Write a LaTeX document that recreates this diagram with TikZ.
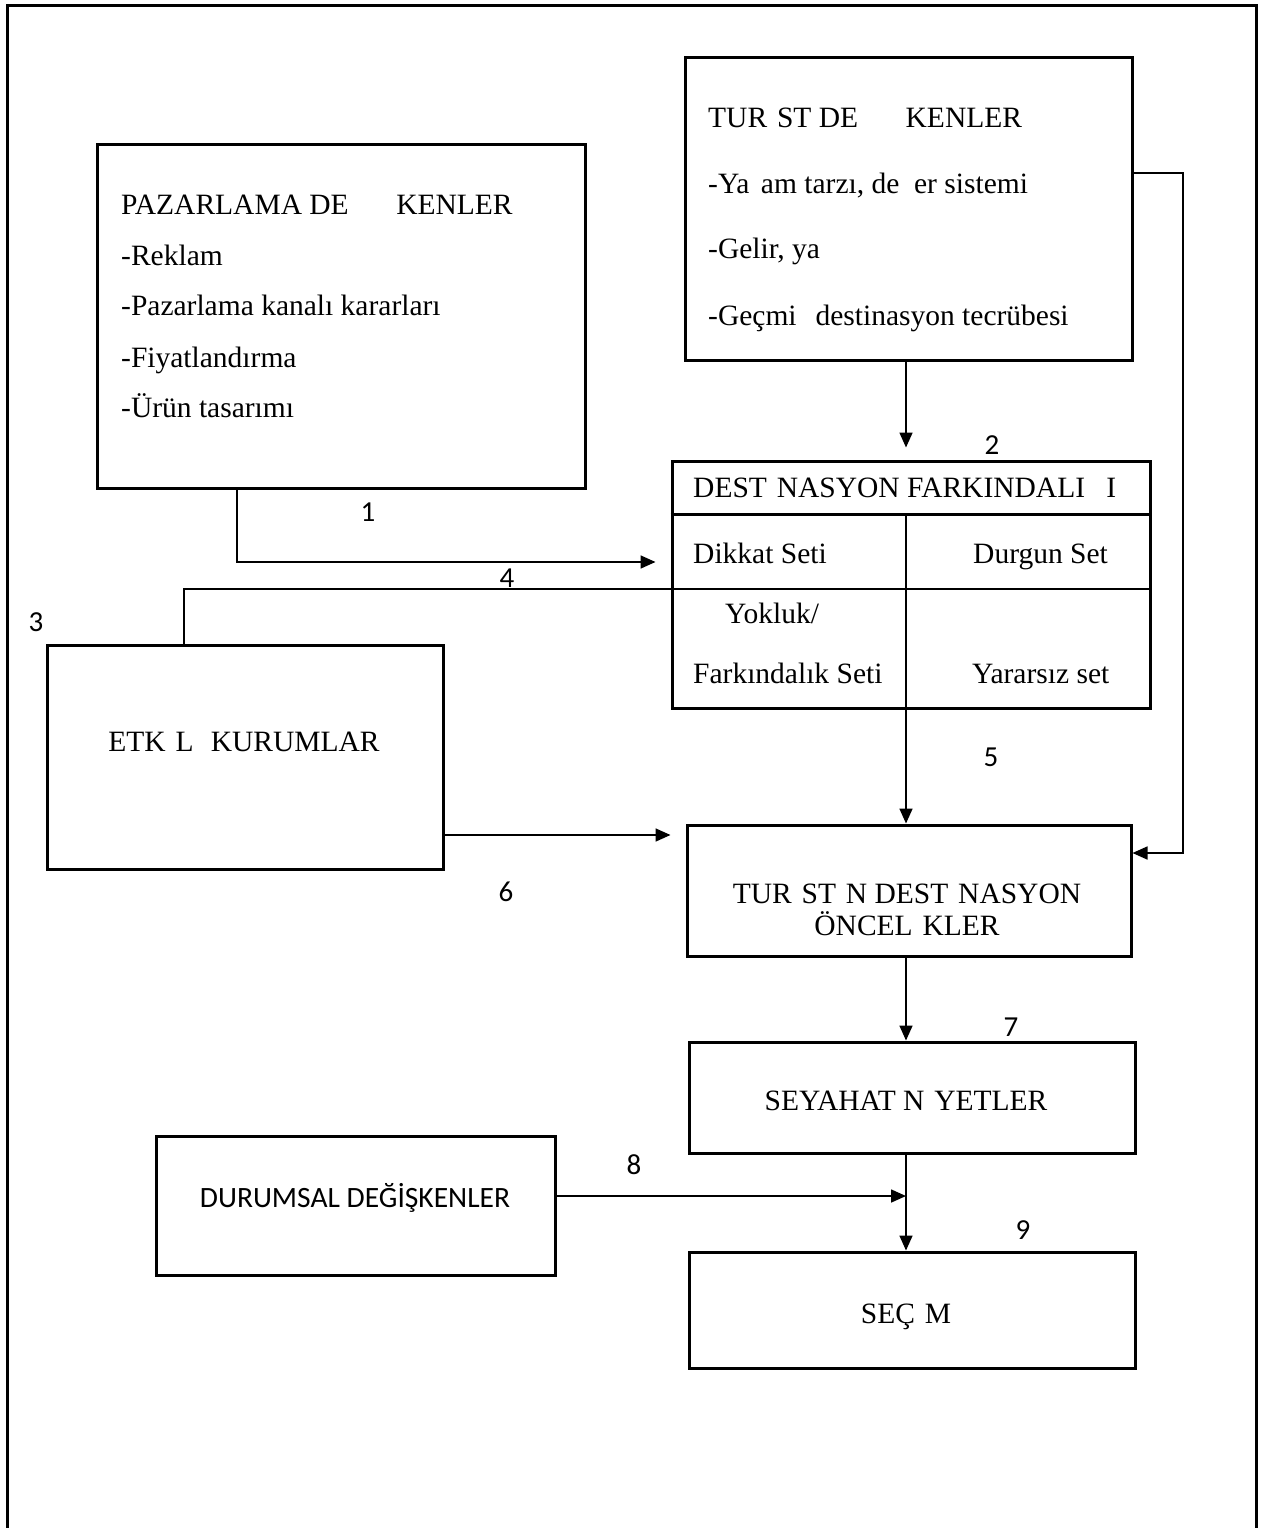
\documentclass[tikz,border=0pt]{standalone}
\usepackage{fontspec}
\setmainfont{Liberation Serif}
\newfontfamily\lblfont{Carlito}
\usetikzlibrary{arrows.meta}
\begin{document}
\begin{tikzpicture}[x=1pt,y=-1pt,
  box/.style={draw,line width=3pt,rectangle,inner sep=0pt},
  conn/.style={line width=1.7pt},
  arr/.style={conn,-{Triangle[length=15pt,width=13pt]}},
  txt/.style={inner sep=0pt,anchor=base west,font=\fontsize{29.5}{34}\selectfont},
  ctxt/.style={inner sep=0pt,anchor=base,font=\fontsize{29.5}{34}\selectfont},
  lbl/.style={inner sep=0pt,font=\lblfont\fontsize{29}{32}\selectfont}]
\useasboundingbox (0,0) rectangle (1262,1528);
% outer frame
\draw[line width=3pt] (7,1528) -- (7,6) -- (1256,6) -- (1256,1528);

% boxes
\node[box,minimum width=488pt,minimum height=344pt] (paz) at (341,316) {};
\node[box,minimum width=447pt,minimum height=302pt] (tur) at (908.5,209) {};
\node[box,minimum width=478pt,minimum height=247pt] (dest) at (911,584.5) {};
\node[box,minimum width=396pt,minimum height=224pt] (etk) at (245,757) {};
\node[box,minimum width=444pt,minimum height=131pt] (pref) at (909,890.5) {};
\node[box,minimum width=446pt,minimum height=111pt] (sey) at (912,1097.5) {};
\node[box,minimum width=399pt,minimum height=139pt] (dur) at (355.5,1205.5) {};
\node[box,minimum width=446pt,minimum height=116pt] (sec) at (912,1310) {};

% texts
\node[txt] (p1) at (121,214) {PAZARLAMA DE\phantom{ĞİŞ}KENLER};
\node[txt] (p2) at (121,265) {-Reklam};
\node[txt] (p3) at (121,315) {-Pazarlama kanalı kararları};
\node[txt] (p4) at (121,367) {-Fiyatlandırma};
\node[txt] (p5) at (121,417) {-Ürün tasarımı};

\node[txt] (t1) at (708,127) {TUR\phantom{İ}ST DE\phantom{ĞİŞ}KENLER};
\node[txt] (t2) at (708,193) {-Ya\phantom{ş}am tarzı, de\phantom{ğ}er sistemi};
\node[txt] (t3) at (708,258) {-Gelir, ya\phantom{ş}};
\node[txt] (t4) at (708,325) {-Geçmi\phantom{ş} destinasyon tecrübesi};

\node[txt] (d0) at (693,497) {DEST\phantom{İ}NASYON FARKINDALI\phantom{Ğ}I};
\node[txt] (d1) at (693,563) {Dikkat Seti};
\node[txt] (d2) at (973,563) {Durgun Set};
\node[txt] (d3) at (725,623) {Yokluk/};
\node[txt] (d4) at (693,683) {Farkındalık Seti};
\node[txt] (d5) at (972,683) {Yararsız set};

\node[ctxt] (e1) at (244,751) {ETK\phantom{İ}L\phantom{İ} KURUMLAR};
\node[ctxt] (r1) at (907,903) {TUR\phantom{İ}ST\phantom{İ}N DEST\phantom{İ}NASYON};
\node[ctxt] (r2) at (907,935) {ÖNCEL\phantom{İ}KLER};
\node[ctxt] (s1) at (906,1110) {SEYAHAT N\phantom{İ}YETLER};
\node[ctxt] (c1t) at (906,1323) {SEÇ\phantom{İ}M};
\node[ctxt,font=\lblfont\fontsize{29.5}{32}\selectfont] (u1) at (355,1207) {DURUMSAL DEĞİŞKENLER};

% internal lines of dest
\coordinate (vx) at (906,0);
\coordinate (h1) at (0,514);
\draw[line width=3pt] (dest.west |- h1) -- (dest.east |- h1);
\draw[conn] (vx |- h1) -- (dest.south -| vx);

% connectors
\coordinate (k1) at (237,562);
\draw[arr,shorten >=15pt] (paz.south -| k1) |- (dest.west |- k1);
\draw[arr,shorten >=12pt] (tur.south -| vx) -- (dest.north -| vx);
\coordinate (k4) at (184,589);
\draw[conn] (etk.north -| k4) |- (dest.east |- k4);
\coordinate (kr) at (1183,173);
\coordinate (kr2) at (1183,853);
\draw[arr] (tur.east |- kr) -- (kr) -- (kr2) -- (pref.east |- kr2);
\draw[arr] (dest.south -| vx) -- (pref.north -| vx);
\coordinate (k6) at (0,835);
\draw[arr,shorten >=15pt] (etk.east |- k6) -- (pref.west |- k6);
\draw[arr] (pref.south -| vx) -- (sey.north -| vx);
\draw[arr] (sey.south -| vx) -- (sec.north -| vx);
\coordinate (k8) at (906,1196);
\draw[arr] (dur.east |- k8) -- (k8);

% labels
\node[lbl] (l1) at (368,512) {1};
\node[lbl] (l2) at (992,445) {2};
\node[lbl] (l3) at (36,622) {3};
\node[lbl] (l4) at (507,578) {4};
\node[lbl] (l5) at (991,757) {5};
\node[lbl] (l6) at (506,892) {6};
\node[lbl] (l7) at (1011,1027) {7};
\node[lbl] (l8) at (634,1165) {8};
\node[lbl] (l9) at (1023,1230) {9};
\end{tikzpicture}
\end{document}
